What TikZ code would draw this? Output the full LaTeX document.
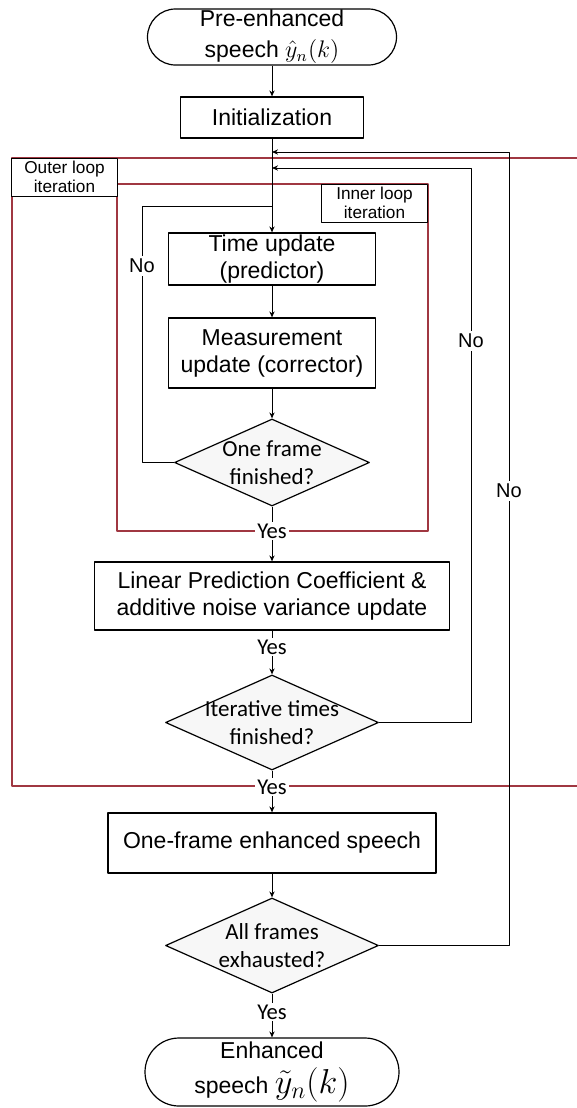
\documentclass[tikz,border=0pt]{standalone}
\usepackage{fontspec}
\setmainfont{Liberation Sans}
\newfontfamily\calibri{Carlito}
\usetikzlibrary{shapes.geometric,arrows.meta}
\definecolor{loopred}{RGB}{160,55,65}
\begin{document}
\begin{tikzpicture}[x=0.5pt,y=-0.5pt,line join=round,>={Stealth[length=3pt,width=2.6pt]},
        font=\fontsize{11.5}{13.5}\selectfont,
        box/.style={draw,line width=0.6pt,align=center,inner sep=0pt},
        term/.style={box,rounded corners=14pt},
        decision/.style={diamond,draw,line width=0.6pt,fill=gray!6,inner sep=0pt},
        dtext/.style={font=\calibri\fontsize{11.5}{14}\selectfont,align=center},
        yeslbl/.style={fill=white,inner sep=1pt,font=\calibri\fontsize{11.3}{12}\selectfont},
        nolbl/.style={fill=white,inner sep=1.5pt,font=\fontsize{10}{12}\selectfont},
        looplbl/.style={draw,fill=white,line width=0.5pt,align=center,inner sep=0pt,
            minimum width=53pt,minimum height=19pt,font=\fontsize{8.6}{9.8}\selectfont},
        flow/.style={->,line width=0.5pt}]
            \useasboundingbox (0,0) rectangle (577,1108);
            \clip (0,0) rectangle (577,1108);
            \draw[loopred,line width=0.8pt] (590,158) -- (12,158) -- (12,786) -- (590,786);
            \draw[loopred,line width=0.8pt] (117,184) rectangle (428,531);
            \node[looplbl] (outerlbl) at (64.5,177) {Outer loop\\iteration};
            \node[looplbl] (innerlbl) at (374.5,203) {Inner loop\\iteration};
            \node[term,minimum width=124.5pt,minimum height=28pt,font=\fontsize{11.5}{15.5}\selectfont] (start) at (272,37)
                {Pre-enhanced\\speech {\fontsize{12}{12}\selectfont$\hat{y}_n(k)$}};
            \node[box,minimum width=91.5pt,minimum height=20.5pt] (init) at (272,117.5) {Initialization};
            \node[box,minimum width=103.5pt,minimum height=26pt] (timeupd) at (272,259) {Time update\\(predictor)};
            \node[box,minimum width=103.5pt,minimum height=35pt] (measupd) at (272,353) {Measurement\\update (corrector)};
            \node[decision,minimum width=97.5pt,minimum height=43.5pt,
                label={[dtext]center:{One frame\\finished?}}] (frame) at (272,462.5) {};
            \node[box,minimum width=177.5pt,minimum height=34pt] (lpc) at (272,596)
                {Linear Prediction Coefficient \&\\additive noise variance update};
            \node[decision,minimum width=106.5pt,minimum height=47.5pt,
                label={[dtext]center:{Iterative times\\finished?}}] (iter) at (272,722.5) {};
            \node[box,minimum width=164pt,minimum height=30pt] (oneframe) at (272,843) {One-frame enhanced speech};
            \node[decision,minimum width=106.5pt,minimum height=47.5pt,
                label={[dtext]center:{All frames\\exhausted?}}] (all) at (272,945.5) {};
            \node[term,rounded corners=17pt,minimum width=127pt,minimum height=34pt,font=\fontsize{11.5}{17.5}\selectfont] (stop) at (272,1072)
                {Enhanced\\speech {\fontsize{17}{17}\selectfont$\tilde{y}_n(k)$}};
            \coordinate (noin) at (142,206);
            \coordinate (noinend) at (272,206);
            \coordinate (itc) at (471,168);
            \coordinate (iterret) at (272,168);
            \coordinate (allc) at (509,152);
            \coordinate (allret) at (272,152);
            \draw[flow] (start) -- (init);
            \draw[flow] (init) -- (timeupd);
            \draw[flow] (timeupd) -- (measupd);
            \draw[flow] (measupd) -- (frame);
            \draw[flow] (frame) -- (lpc);
            \draw[flow] (lpc) -- (iter);
            \draw[flow] (iter) -- (oneframe);
            \draw[flow] (oneframe) -- (all);
            \draw[flow] (all) -- (stop);
            \draw[line width=0.5pt] (frame.west) -| (noin) -- (noinend);
            \draw[flow] (iter.east) -| (itc) -- (iterret);
            \draw[flow] (all.east) -| (allc) -- (allret);
            \node[yeslbl] (yes1) at (272,531) {Yes};
            \node[yeslbl] (yes2) at (272,647) {Yes};
            \node[yeslbl] (yes3) at (272,787) {Yes};
            \node[yeslbl] (yes4) at (272,1012) {Yes};
            \node[nolbl] (no1) at (142,266) {No};
            \node[nolbl] (no2) at (471,341) {No};
            \node[nolbl] (no3) at (509,491) {No};
\end{tikzpicture}
\end{document}
